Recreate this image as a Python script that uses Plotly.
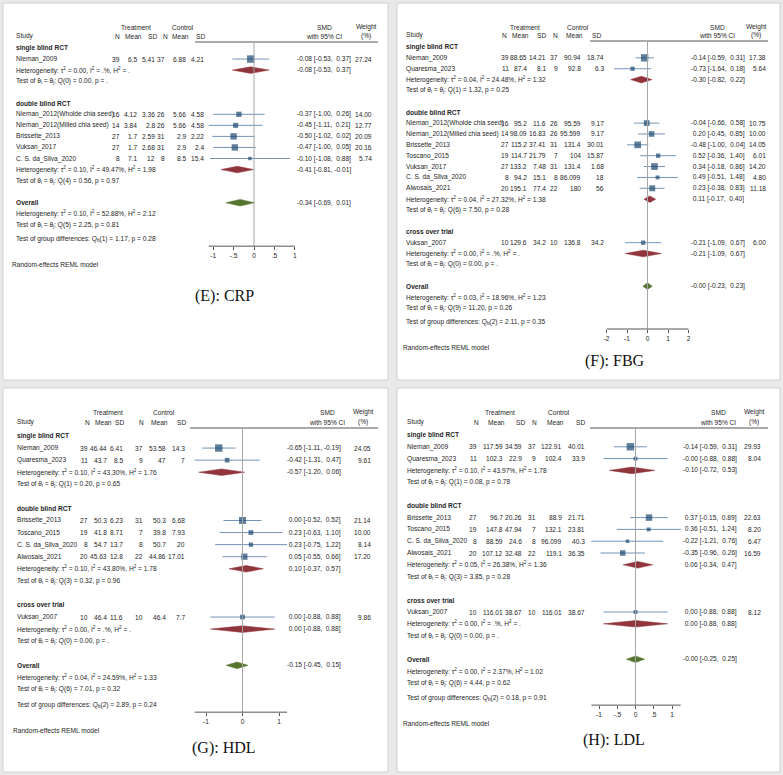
import math
import plotly.graph_objects as go

FIG_W, FIG_H = 783, 775
FONT = "Liberation Sans, Arial, sans-serif"
FS = 6.6
TXT = "#262626"
SQ_COLOR = "#1a476f"
CI_COLOR = "#7393b7"
SUB_COLOR = "#90353b"
OV_COLOR = "#55752f"

# ---------------- (E) CRP ----------------
crp_groups = ["single blind RCT", "double blind RCT"]
crp_study = ["Nieman_2009", "Nieman_2012(Wholde chia seed)", "Nieman_2012(Milled chia seed)",
             "Brissette_2013", "Vuksan_2017", "C. S. da_Silva_2020"]
crp_group = [0, 1, 1, 1, 1, 1]
crp_tn = [39, 16, 14, 27, 27, 8]
crp_tmean = [6.5, 4.12, 3.84, 1.7, 1.7, 7.1]
crp_tsd = [5.41, 3.36, 2.8, 2.59, 2.68, 12]
crp_cn = [37, 26, 26, 31, 31, 8]
crp_cmean = [6.88, 5.66, 5.66, 2.9, 2.9, 8.5]
crp_csd = [4.21, 4.58, 4.58, 2.22, 2.4, 15.4]
crp_smd = [-0.08, -0.37, -0.45, -0.50, -0.47, -0.10]
crp_lo = [-0.53, -1.00, -1.11, -1.02, -1.00, -1.08]
crp_hi = [0.37, 0.26, 0.21, 0.02, 0.05, 0.88]
crp_weight = [27.24, 14.00, 12.77, 20.09, 20.16, 5.74]
crp_sub_smd = [-0.08, -0.41]
crp_sub_lo = [-0.53, -0.81]
crp_sub_hi = [0.37, -0.01]
crp_sub_tau2 = [0.00, 0.10]
crp_sub_i2 = [None, 49.47]
crp_sub_h2 = [None, 1.98]
crp_sub_df = [0, 4]
crp_sub_q = [0.00, 0.56]
crp_sub_p = [None, 0.97]
crp_overall = [-0.34, -0.69, 0.01]
crp_overall_het = [0.10, 52.88, 2.12]
crp_overall_test = [5, 2.25, 0.81]
crp_groupdiff = [1, 1.17, 0.28]
crp_ticks = [-1, -0.5, 0, 0.5, 1]
crp_ticktext = ["-1", "-.5", "0", ".5", "1"]

# ---------------- (F) FBG ----------------
fbg_groups = ["single blind RCT", "double blind RCT", "cross over trial"]
fbg_study = ["Nieman_2009", "Quaresma_2023", "Nieman_2012(Wholde chia seed)", "Nieman_2012(Milled chia seed)",
             "Brissette_2013", "Toscano_2015", "Vuksan_2017", "C. S. da_Silva_2020", "Alwosais_2021",
             "Vuksan_2007"]
fbg_group = [0, 0, 1, 1, 1, 1, 1, 1, 1, 2]
fbg_tn = [39, 11, 16, 14, 27, 19, 27, 8, 20, 10]
fbg_tmean = [88.65, 87.4, 95.2, 98.09, 115.2, 114.7, 133.2, 94.2, 195.1, 129.6]
fbg_tsd = [14.21, 8.1, 11.6, 16.83, 37.41, 21.79, 7.48, 15.1, 77.4, 34.2]
fbg_cn = [37, 9, 26, 26, 31, 7, 31, 8, 22, 10]
fbg_cmean = [90.94, 92.8, 95.59, 95.599, 131.4, 104, 131.4, 86.099, 180, 136.8]
fbg_csd = [18.74, 6.3, 9.17, 9.17, 30.01, 15.87, 1.68, 18, 56, 34.2]
fbg_smd = [-0.14, -0.73, -0.04, 0.20, -0.48, 0.52, 0.34, 0.49, 0.23, -0.21]
fbg_lo = [-0.59, -1.64, -0.66, -0.45, -1.00, -0.36, -0.18, -0.51, -0.38, -1.09]
fbg_hi = [0.31, 0.18, 0.58, 0.85, 0.04, 1.40, 0.86, 1.48, 0.83, 0.67]
fbg_weight = [17.38, 5.64, 10.75, 10.00, 14.05, 6.01, 14.20, 4.80, 11.18, 6.00]
fbg_sub_smd = [-0.30, 0.11, -0.21]
fbg_sub_lo = [-0.82, -0.17, -1.09]
fbg_sub_hi = [0.22, 0.40, 0.67]
fbg_sub_tau2 = [0.04, 0.04, 0.00]
fbg_sub_i2 = [24.48, 27.32, None]
fbg_sub_h2 = [1.32, 1.38, None]
fbg_sub_df = [1, 6, 0]
fbg_sub_q = [1.32, 7.50, 0.00]
fbg_sub_p = [0.25, 0.28, None]
fbg_overall = [-0.0, -0.23, 0.23]
fbg_overall_het = [0.03, 18.96, 1.23]
fbg_overall_test = [9, 11.20, 0.26]
fbg_groupdiff = [2, 2.11, 0.35]
fbg_ticks = [-2, -1, 0, 1, 2]
fbg_ticktext = ["-2", "-1", "0", "1", "2"]

# ---------------- (G) HDL ----------------
hdl_groups = ["single blind RCT", "double blind RCT", "cross over trial"]
hdl_study = ["Nieman_2009", "Quaresma_2023", "Brissette_2013", "Toscano_2015", "C. S. da_Silva_2020",
             "Alwosais_2021", "Vuksan_2007"]
hdl_group = [0, 0, 1, 1, 1, 1, 2]
hdl_tn = [39, 11, 27, 19, 8, 20, 10]
hdl_tmean = [46.44, 43.7, 50.3, 41.8, 54.7, 45.63, 46.4]
hdl_tsd = [6.41, 8.5, 6.23, 8.71, 13.7, 12.8, 11.6]
hdl_cn = [37, 9, 31, 7, 8, 22, 10]
hdl_cmean = [53.58, 47, 50.3, 39.8, 50.7, 44.86, 46.4]
hdl_csd = [14.3, 7, 6.68, 7.93, 20, 17.01, 7.7]
hdl_smd = [-0.65, -0.42, 0.00, 0.23, 0.23, 0.05, 0.00]
hdl_lo = [-1.11, -1.31, -0.52, -0.63, -0.75, -0.55, -0.88]
hdl_hi = [-0.19, 0.47, 0.52, 1.10, 1.22, 0.66, 0.88]
hdl_weight = [24.05, 9.61, 21.14, 10.00, 8.14, 17.20, 9.86]
hdl_sub_smd = [-0.57, 0.10, 0.00]
hdl_sub_lo = [-1.20, -0.37, -0.88]
hdl_sub_hi = [0.06, 0.57, 0.88]
hdl_sub_tau2 = [0.10, 0.10, 0.00]
hdl_sub_i2 = [43.30, 43.80, None]
hdl_sub_h2 = [1.76, 1.78, None]
hdl_sub_df = [1, 3, 0]
hdl_sub_q = [0.20, 0.32, 0.00]
hdl_sub_p = [0.65, 0.96, None]
hdl_overall = [-0.15, -0.45, 0.15]
hdl_overall_het = [0.04, 24.59, 1.33]
hdl_overall_test = [6, 7.01, 0.32]
hdl_groupdiff = [2, 2.89, 0.24]
hdl_ticks = [-1, 0, 1]
hdl_ticktext = ["-1", "0", "1"]

# ---------------- (H) LDL ----------------
ldl_groups = ["single blind RCT", "double blind RCT", "cross over trial"]
ldl_study = ["Nieman_2009", "Quaresma_2023", "Brissette_2013", "Toscano_2015", "C. S. da_Silva_2020",
             "Alwosais_2021", "Vuksan_2007"]
ldl_group = [0, 0, 1, 1, 1, 1, 2]
ldl_tn = [39, 11, 27, 19, 8, 20, 10]
ldl_tmean = [117.59, 102.3, 96.7, 147.8, 88.59, 107.12, 116.01]
ldl_tsd = [34.59, 22.9, 20.26, 47.94, 24.6, 32.48, 38.67]
ldl_cn = [37, 9, 31, 7, 8, 22, 10]
ldl_cmean = [122.91, 102.4, 88.9, 132.1, 96.099, 119.1, 116.01]
ldl_csd = [40.01, 33.9, 21.71, 23.81, 40.3, 36.35, 38.67]
ldl_smd = [-0.14, -0.0, 0.37, 0.36, -0.22, -0.35, 0.00]
ldl_lo = [-0.59, -0.88, -0.15, -0.51, -1.21, -0.96, -0.88]
ldl_hi = [0.31, 0.88, 0.89, 1.24, 0.76, 0.26, 0.88]
ldl_weight = [29.93, 8.04, 22.63, 8.20, 6.47, 16.59, 8.12]
ldl_sub_smd = [-0.10, 0.06, 0.00]
ldl_sub_lo = [-0.72, -0.34, -0.88]
ldl_sub_hi = [0.53, 0.47, 0.88]
ldl_sub_tau2 = [0.10, 0.05, 0.00]
ldl_sub_i2 = [43.97, 26.38, None]
ldl_sub_h2 = [1.78, 1.36, None]
ldl_sub_df = [1, 3, 0]
ldl_sub_q = [0.08, 3.85, 0.00]
ldl_sub_p = [0.78, 0.28, None]
ldl_overall = [-0.0, -0.25, 0.25]
ldl_overall_het = [0.00, 2.37, 1.02]
ldl_overall_test = [6, 4.44, 0.62]
ldl_groupdiff = [2, 0.18, 0.91]
ldl_ticks = [-1, -0.5, 0, 0.5, 1]
ldl_ticktext = ["-1", "-.5", "0", ".5", "1"]

captions = ["(E): CRP", "(F): FBG", "(G): HDL", "(H): LDL"]
col_headers = ["N", "Mean", "SD", "N", "Mean", "SD"]

# ---------------- layout geometry (pixels) ----------------
geoms = [
    dict(left=3, top=3, right=388, bottom=380, y0=48, pitch=11.05, hdr1=27, hdr2=36, hline_y=42,
         hline_x=(195, 378), text_x=15, col_r=[121, 138, 156, 166, 187, 205],
         hdr_c=[117, 133, 152, 165, 180, 200.5], trt_c=136, ctl_c=183,
         zero=254, scale=40.8, smd_x=296, w_r=373, smd_c=324, w_c=366, rem_x=11, cap_x=224, cap_y=296),
    dict(left=397, top=3, right=780, bottom=380, y0=47, pitch=10.87, hdr1=27, hdr2=35, hline_y=41,
         hline_x=(590, 768), text_x=405, col_r=[509.5, 528, 547, 559, 582, 605],
         hdr_c=[504, 520, 541.5, 555.5, 574, 596], trt_c=525, ctl_c=578,
         zero=647.5, scale=20.5, smd_x=690, w_r=767, smd_c=717, w_c=756, rem_x=402, cap_x=615, cap_y=361),
    dict(left=3, top=388, right=388, bottom=772, y0=436, pitch=12.07, hdr1=412, hdr2=422, hline_y=428,
         hline_x=(190, 378), text_x=16, col_r=[89, 108, 124, 144, 167, 186],
         hdr_c=[87.5, 103.5, 119, 141.5, 159, 181], trt_c=108, ctl_c=164,
         zero=242.5, scale=36.5, smd_x=286, w_r=372, smd_c=327, w_c=363, rem_x=12, cap_x=224, cap_y=748),
    dict(left=397, top=388, right=780, bottom=772, y0=435, pitch=11.8, hdr1=412, hdr2=422, hline_y=428,
         hline_x=(590, 768), text_x=406, col_r=[478, 504, 523, 537, 563, 586],
         hdr_c=[476, 496, 520, 534.5, 555, 580], trt_c=500, ctl_c=559,
         zero=635.5, scale=36.5, smd_x=682, w_r=762, smd_c=718, w_c=754, rem_x=402, cap_x=614, cap_y=740),
]

datasets = [
    dict(groups=crp_groups, study=crp_study, group=crp_group, cols=[crp_tn, crp_tmean, crp_tsd, crp_cn, crp_cmean, crp_csd],
         smd=crp_smd, lo=crp_lo, hi=crp_hi, w=crp_weight, sub_smd=crp_sub_smd, sub_lo=crp_sub_lo, sub_hi=crp_sub_hi,
         tau2=crp_sub_tau2, i2=crp_sub_i2, h2=crp_sub_h2, df=crp_sub_df, q=crp_sub_q, p=crp_sub_p,
         overall=crp_overall, ohet=crp_overall_het, otest=crp_overall_test, gdiff=crp_groupdiff,
         ticks=crp_ticks, ticktext=crp_ticktext),
    dict(groups=fbg_groups, study=fbg_study, group=fbg_group, cols=[fbg_tn, fbg_tmean, fbg_tsd, fbg_cn, fbg_cmean, fbg_csd],
         smd=fbg_smd, lo=fbg_lo, hi=fbg_hi, w=fbg_weight, sub_smd=fbg_sub_smd, sub_lo=fbg_sub_lo, sub_hi=fbg_sub_hi,
         tau2=fbg_sub_tau2, i2=fbg_sub_i2, h2=fbg_sub_h2, df=fbg_sub_df, q=fbg_sub_q, p=fbg_sub_p,
         overall=fbg_overall, ohet=fbg_overall_het, otest=fbg_overall_test, gdiff=fbg_groupdiff,
         ticks=fbg_ticks, ticktext=fbg_ticktext),
    dict(groups=hdl_groups, study=hdl_study, group=hdl_group, cols=[hdl_tn, hdl_tmean, hdl_tsd, hdl_cn, hdl_cmean, hdl_csd],
         smd=hdl_smd, lo=hdl_lo, hi=hdl_hi, w=hdl_weight, sub_smd=hdl_sub_smd, sub_lo=hdl_sub_lo, sub_hi=hdl_sub_hi,
         tau2=hdl_sub_tau2, i2=hdl_sub_i2, h2=hdl_sub_h2, df=hdl_sub_df, q=hdl_sub_q, p=hdl_sub_p,
         overall=hdl_overall, ohet=hdl_overall_het, otest=hdl_overall_test, gdiff=hdl_groupdiff,
         ticks=hdl_ticks, ticktext=hdl_ticktext),
    dict(groups=ldl_groups, study=ldl_study, group=ldl_group, cols=[ldl_tn, ldl_tmean, ldl_tsd, ldl_cn, ldl_cmean, ldl_csd],
         smd=ldl_smd, lo=ldl_lo, hi=ldl_hi, w=ldl_weight, sub_smd=ldl_sub_smd, sub_lo=ldl_sub_lo, sub_hi=ldl_sub_hi,
         tau2=ldl_sub_tau2, i2=ldl_sub_i2, h2=ldl_sub_h2, df=ldl_sub_df, q=ldl_sub_q, p=ldl_sub_p,
         overall=ldl_overall, ohet=ldl_overall_het, otest=ldl_overall_test, gdiff=ldl_groupdiff,
         ticks=ldl_ticks, ticktext=ldl_ticktext),
]


def px(xp):
    return xp / FIG_W


def ci_text(e, l, h):
    return f"{e:5.2f} [{l:5.2f}, {h:5.2f}]".replace(" ", "\u00a0")


def het_text(tau2, i2, h2):
    i2s = "." if i2 is None else f"{i2:.2f}"
    h2s = "." if h2 is None else f"{h2:.2f}"
    return f"Heterogeneity: \u03c4<sup>2</sup> = {tau2:.2f}, I<sup>2</sup> = {i2s}%, H<sup>2</sup> = {h2s}"


def test_text(df, q, p):
    ps = "." if p is None else f"{p:.2f}"
    return f"Test of \u03b8<sub>i</sub> = \u03b8<sub>j</sub>: Q({df}) = {q:.2f}, p = {ps}"


def gdiff_text(df, q, p):
    return f"Test of group differences: Q<sub>b</sub>({df}) = {q:.2f}, p = {p:.2f}"


fig = go.Figure()
annotations = []
shapes = []
layout_axes = {}


def ann(x, y, text, yref, xanchor="left", size=FS, bold=False, color=TXT, family=FONT):
    if bold:
        text = f"<b>{text}</b>"
    annotations.append(dict(x=px(x), y=y, xref="paper", yref=yref, text=text, showarrow=False,
                            xanchor=xanchor, yanchor="middle", borderpad=0,
                            font=dict(size=size, color=color, family=family)))


for k, (g, d) in enumerate(zip(geoms, datasets)):
    sfx = "" if k == 0 else str(k + 1)
    xname, yname = "x" + sfx, "y" + sfx
    xa, ya = "xaxis" + sfx, "yaxis" + sfx

    def rowy(r):
        return g["y0"] + r * g["pitch"]

    n = len(d["study"])
    study_y = [0] * n
    grp_y, het_y, test_y = [], [], []
    r = 0
    for gi in range(len(d["groups"])):
        grp_y.append(rowy(r)); r += 1
        for i in range(n):
            if d["group"][i] == gi:
                study_y[i] = rowy(r); r += 1
        het_y.append(rowy(r)); r += 1
        test_y.append(rowy(r)); r += 1
        r += 1
    ov_y, ovhet_y, ovtest_y = rowy(r), rowy(r + 1), rowy(r + 2)
    gd_y = rowy(r + 3.3)
    axis_y = gd_y + 7
    rem_y = axis_y + 18

    x_lo = (g["left"] - g["zero"]) / g["scale"]
    x_hi = (g["right"] - g["zero"]) / g["scale"]
    layout_axes[xa] = dict(domain=[px(g["left"]), px(g["right"])], range=[x_lo, x_hi], anchor="free",
                           position=1 - axis_y / FIG_H, showgrid=False, zeroline=False, showline=False,
                           ticks="outside", ticklen=3, tickwidth=1, tickcolor="#555555",
                           tickvals=d["ticks"], ticktext=d["ticktext"], automargin=False,
                           tickfont=dict(size=FS, color=TXT, family=FONT), fixedrange=True)
    layout_axes[ya] = dict(domain=[1 - g["bottom"] / FIG_H, 1 - g["top"] / FIG_H],
                           range=[g["bottom"], g["top"]], visible=False, fixedrange=True, automargin=False)

    shapes.append(dict(type="rect", xref="paper", yref="paper", x0=px(g["left"]), x1=px(g["right"]),
                       y0=1 - g["bottom"] / FIG_H, y1=1 - g["top"] / FIG_H,
                       fillcolor="white", line=dict(color="#cfcfcf", width=1), layer="below"))
    shapes.append(dict(type="line", xref="paper", yref=yname, x0=px(g["hline_x"][0]), x1=px(g["hline_x"][1]),
                       y0=g["hline_y"], y1=g["hline_y"], line=dict(color="#555555", width=1)))
    shapes.append(dict(type="line", xref=xname, yref=yname, x0=0, x1=0, y0=g["hline_y"], y1=axis_y,
                       line=dict(color="#a6a6a6", width=1)))
    amin = min(min(d["ticks"]), min(d["lo"]))
    amax = max(max(d["ticks"]), max(d["hi"]))
    shapes.append(dict(type="line", xref=xname, yref=yname, x0=amin, x1=amax, y0=axis_y, y1=axis_y,
                       line=dict(color="#555555", width=1)))

    cx, cy = [], []
    for i in range(n):
        cx += [d["lo"][i], d["hi"][i], None]
        cy += [study_y[i], study_y[i], None]
    fig.add_trace(go.Scatter(x=cx, y=cy, mode="lines", line=dict(color=CI_COLOR, width=1),
                             xaxis=xname, yaxis=yname, hoverinfo="skip", showlegend=False))
    wmax = max(d["w"])
    sizes = [7.4 * math.sqrt(w / wmax) for w in d["w"]]
    fig.add_trace(go.Scatter(x=d["smd"], y=study_y, mode="markers",
                             marker=dict(symbol="square", size=sizes, color=SQ_COLOR, line=dict(width=0)),
                             xaxis=xname, yaxis=yname, showlegend=False, cliponaxis=False))
    half = 3.3
    for gi in range(len(d["groups"])):
        e, l, h = d["sub_smd"][gi], d["sub_lo"][gi], d["sub_hi"][gi]
        yy = het_y[gi]
        fig.add_trace(go.Scatter(x=[l, e, h, e, l], y=[yy, yy - half, yy, yy + half, yy], mode="lines",
                                 fill="toself", fillcolor=SUB_COLOR, line=dict(color=SUB_COLOR, width=0.5),
                                 xaxis=xname, yaxis=yname, showlegend=False, hoverinfo="skip"))
    e, l, h = d["overall"]
    fig.add_trace(go.Scatter(x=[l, e, h, e, l], y=[ov_y, ov_y - half, ov_y, ov_y + half, ov_y], mode="lines",
                             fill="toself", fillcolor=OV_COLOR, line=dict(color=OV_COLOR, width=0.5),
                             xaxis=xname, yaxis=yname, showlegend=False, hoverinfo="skip"))

    ann(g["trt_c"], g["hdr1"], "Treatment", yname, "center")
    ann(g["ctl_c"], g["hdr1"], "Control", yname, "center")
    ann(g["text_x"], g["hdr2"], "Study", yname)
    for cxp, lab in zip(g["hdr_c"], col_headers):
        ann(cxp, g["hdr2"], lab, yname, "center")
    ann(g["smd_c"], g["hdr1"], "SMD", yname, "center")
    ann(g["smd_c"], g["hdr2"], "with 95% CI", yname, "center")
    ann(g["w_c"], g["hdr1"], "Weight", yname, "center")
    ann(g["w_c"], g["hdr2"], "(%)", yname, "center")

    for gi, gname in enumerate(d["groups"]):
        ann(g["text_x"], grp_y[gi], gname, yname, bold=True)
        ann(g["text_x"], het_y[gi], het_text(d["tau2"][gi], d["i2"][gi], d["h2"][gi]), yname)
        ann(g["text_x"], test_y[gi], test_text(d["df"][gi], d["q"][gi], d["p"][gi]), yname)
        ann(g["smd_x"], het_y[gi], ci_text(d["sub_smd"][gi], d["sub_lo"][gi], d["sub_hi"][gi]), yname)
    for i in range(n):
        ann(g["text_x"], study_y[i], d["study"][i], yname)
        for cxp, col in zip(g["col_r"], d["cols"]):
            ann(cxp, study_y[i], str(col[i]), yname, "right")
        ann(g["smd_x"], study_y[i], ci_text(d["smd"][i], d["lo"][i], d["hi"][i]), yname)
        ann(g["w_r"], study_y[i], f"{d['w'][i]:.2f}", yname, "right")
    ann(g["text_x"], ov_y, "Overall", yname, bold=True)
    ann(g["smd_x"], ov_y, ci_text(*d["overall"]), yname)
    ann(g["text_x"], ovhet_y, het_text(*d["ohet"]), yname)
    ann(g["text_x"], ovtest_y, test_text(*d["otest"]), yname)
    ann(g["text_x"], gd_y, gdiff_text(*d["gdiff"]), yname)
    ann(g["rem_x"], rem_y, "Random-effects REML model", yname)
    ann(g["cap_x"], g["cap_y"], captions[k], yname, "center", size=16, color="#111111",
        family="Liberation Serif, Times New Roman, serif")

fig.update_layout(
    width=FIG_W, height=FIG_H, margin=dict(l=0, r=0, t=0, b=0, autoexpand=False),
    paper_bgcolor="#e9e9e9", plot_bgcolor="rgba(0,0,0,0)",
    showlegend=False, annotations=annotations, shapes=shapes,
    font=dict(family=FONT, size=FS, color=TXT),
    **layout_axes,
)

fig.write_html("out.html", config={"displayModeBar": False},
               post_script="document.body.style.margin='0px';")
